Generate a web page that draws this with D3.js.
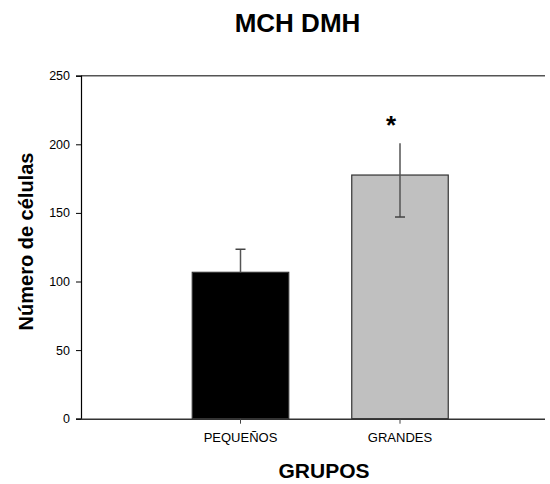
<!DOCTYPE html>
<html><head><meta charset="utf-8">
<script src="https://cdn.jsdelivr.net/npm/d3@7"></script>
<style>body{margin:0;background:#fff}svg{display:block;font-family:Arial,"Liberation Sans",sans-serif}</style>
</head><body>
<svg id="c" width="550" height="484"></svg>
<script>
const categories = ["PEQUEÑOS", "GRANDES"];
const values = [106.7, 177.6];
const errHigh = [123.5, 200.7];
const errLow = [106.7, 147];
const capEnd = ["high", "low"];
const yTicks = [0, 50, 100, 150, 200, 250];
const barColors = ["#000000", "#c0c0c0"];
const title = "MCH DMH";
const xTitle = "GRUPOS";
const yTitle = "Número de células";
const significance = ["", "*"];

const svg = d3.select("#c");
const L = 81, R = 545, T = 75.7, B = 418.7;
const y = d3.scaleLinear().domain([0, 250]).range([B, T]);
const x = d3.scaleBand().domain(categories).range([160.75, 479.75]).paddingInner(0.395).paddingOuter(0.1975);

// top frame line
svg.append("line").attr("x1", L).attr("x2", R).attr("y1", T).attr("y2", T)
  .attr("stroke", "#555").attr("stroke-width", 1.5);

// bars
svg.selectAll("rect.bar").data(categories).enter().append("rect")
  .attr("x", d => x(d)).attr("width", x.bandwidth())
  .attr("y", (d, i) => y(values[i])).attr("height", (d, i) => B - y(values[i]))
  .attr("fill", (d, i) => barColors[i]).attr("stroke", "#333").attr("stroke-width", 1.2);

// error bars
categories.forEach((c, i) => {
  const cx = x(c) + x.bandwidth() / 2;
  svg.append("line").attr("x1", cx).attr("x2", cx)
    .attr("y1", y(errLow[i])).attr("y2", y(errHigh[i]))
    .attr("stroke", "#555").attr("stroke-width", 1.5);
  const cy = capEnd[i] === "high" ? y(errHigh[i]) : y(errLow[i]);
  svg.append("line").attr("x1", cx - 5).attr("x2", cx + 5).attr("y1", cy).attr("y2", cy)
    .attr("stroke", "#444").attr("stroke-width", 1.5);
  if (significance[i]) {
    svg.append("text").attr("x", cx - 9).attr("y", y(errHigh[i]) - 9)
      .attr("text-anchor", "middle").attr("font-size", 26).attr("font-weight", "bold")
      .text(significance[i]);
  }
});

// y axis
const ya = svg.append("g").attr("transform", `translate(${L},0)`)
  .call(d3.axisLeft(y).tickValues(yTicks).tickSize(5).tickPadding(6));
ya.select(".domain").attr("stroke", "#000").attr("stroke-width", 1.2);
ya.selectAll(".tick line").attr("stroke", "#000");
ya.selectAll("text").attr("font-size", 12.5).attr("font-family", "Arial, 'Liberation Sans', sans-serif").attr("fill", "#000");

// x axis
const xa = svg.append("g").attr("transform", `translate(0,${B})`)
  .call(d3.axisBottom(x).tickSize(5).tickPadding(9).tickSizeOuter(0));
xa.select(".domain").attr("d", `M${L},0.5H${R}`).attr("stroke", "#333").attr("stroke-width", 1.5);
xa.selectAll(".tick line").attr("stroke", "#444");
xa.selectAll("text").attr("font-size", 13).attr("font-family", "Arial, 'Liberation Sans', sans-serif").attr("fill", "#000");

// titles
svg.append("text").attr("x", 297.5).attr("y", 32).attr("text-anchor", "middle")
  .attr("font-size", 26).attr("font-weight", "bold").text(title);
svg.append("text").attr("x", 324).attr("y", 477.5).attr("text-anchor", "middle")
  .attr("font-size", 21).attr("font-weight", "bold").text(xTitle);
svg.append("text").attr("transform", "translate(33,241.5) rotate(-90)").attr("text-anchor", "middle")
  .attr("font-size", 20).attr("font-weight", "bold").text(yTitle);
</script>
</body></html>
